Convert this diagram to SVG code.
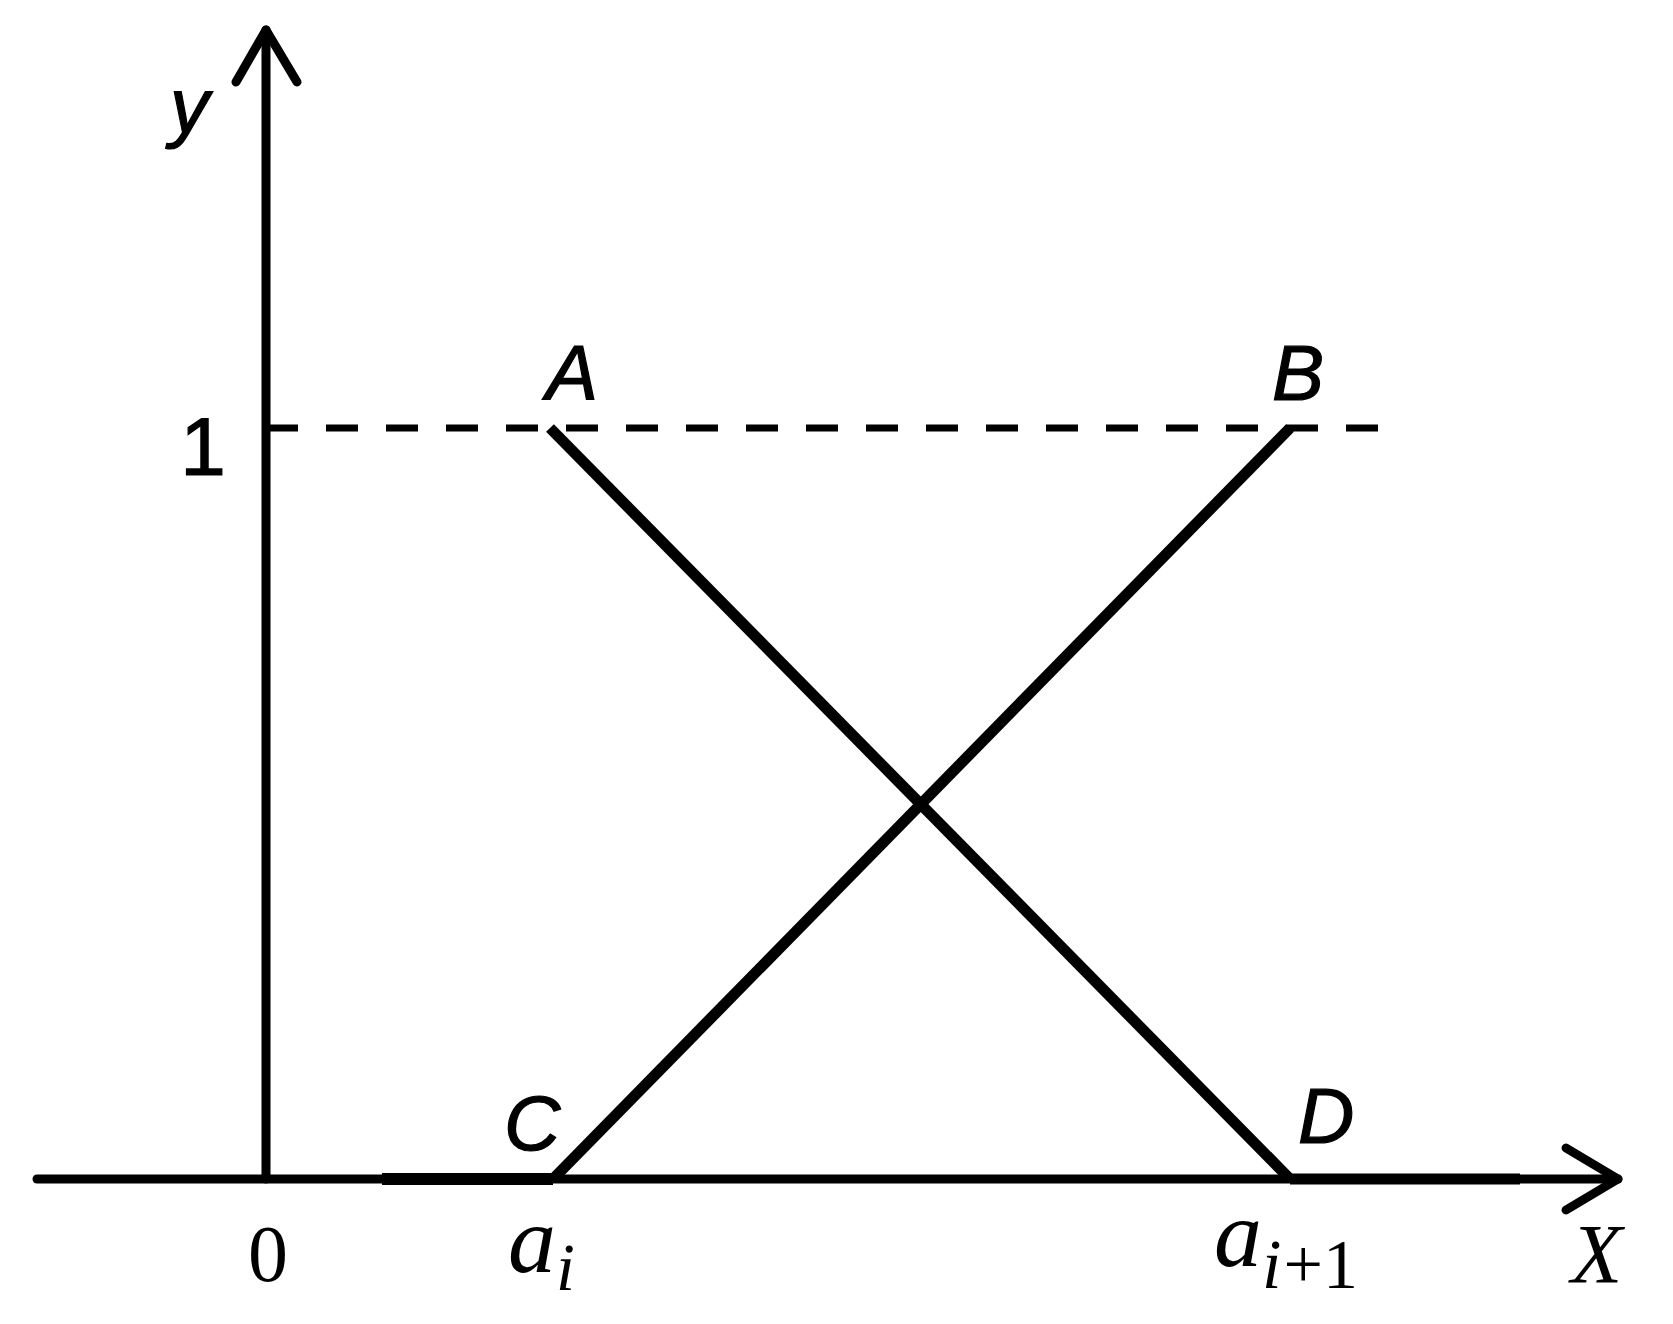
<svg xmlns="http://www.w3.org/2000/svg" width="1673" height="1324" viewBox="0 0 1673 1324">
<style>
.ax{stroke:#000;stroke-width:9;fill:none;stroke-linecap:round;stroke-linejoin:round}
.ln{stroke:#000;stroke-width:11;fill:none;stroke-linecap:butt}
.dash{stroke:#000;stroke-width:7;fill:none;stroke-dasharray:32 28}
.sl{font-family:"Liberation Sans",Arial,sans-serif;font-style:italic;font-size:78px;fill:#000;stroke:#000;stroke-width:1.2}
.sn{font-family:"Liberation Sans",Arial,sans-serif;font-size:82px;fill:#000;stroke:#000;stroke-width:1.2}
.tm{font-family:"Liberation Serif","Times New Roman",serif;fill:#000}
</style>
<rect width="1673" height="1324" fill="#fff"/>
<g id="axes">
<line class="ax" x1="266" y1="1179" x2="266" y2="30"/>
<polyline class="ax" points="236,82 266,30 297,82"/>
<line class="ax" x1="37" y1="1179" x2="1618" y2="1179"/>
<line x1="382" y1="1179" x2="553" y2="1179" stroke="#000" stroke-width="12"/>
<line x1="1290" y1="1179" x2="1520" y2="1179" stroke="#000" stroke-width="11"/>
<polyline class="ax" points="1566,1148 1618,1179 1566,1210"/>
</g>
<g id="connectors">
<line class="dash" x1="266" y1="428" x2="1394" y2="428"/>
<line class="ln" x1="550" y1="428" x2="1290" y2="1179"/>
<line class="ln" x1="1290" y1="428" x2="553" y2="1179"/>
</g>
<g id="labels">
<text class="sl" x="170" y="133">y</text>
<text class="sn" x="203" y="475" text-anchor="middle">1</text>
<text class="sl" x="546" y="400">A</text>
<text class="sl" x="1272" y="400">B</text>
<text class="sl" x="504" y="1150">C</text>
<text class="sl" x="1298" y="1143">D</text>
<text class="tm" x="268" y="1281" font-size="80" text-anchor="middle">0</text>
<text class="tm" x="508" y="1272" font-size="96" font-style="italic">a<tspan font-size="68" dy="18">i</tspan></text>
<text class="tm" x="1214" y="1266" font-size="96" font-style="italic">a<tspan font-size="70" dy="22">i</tspan><tspan font-size="70" font-style="normal" dx="2">+1</tspan></text>
<text class="tm" x="1571" y="1283" font-size="84" font-style="italic">X</text>
</g>
</svg>
